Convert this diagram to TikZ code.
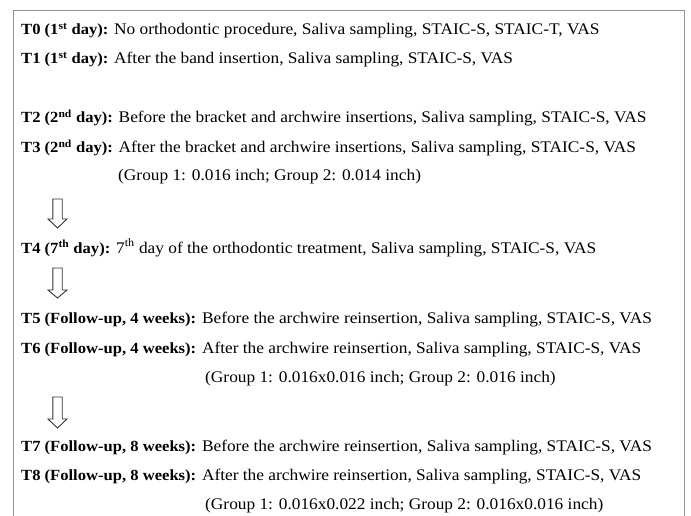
\documentclass[tikz,border=0pt]{standalone}
\usepackage{fontspec}
\setmainfont{Liberation Serif}
\newfontfamily\bodyfont[FakeStretch=1.07]{Liberation Serif}
\newcommand{\lab}[1]{{\fontsize{15.5}{18}\selectfont\bfseries #1}}
\begin{document}
\begin{tikzpicture}[x=1pt,y=-1pt,
  line/.style={anchor=base west, inner sep=0pt, font=\bodyfont\fontsize{16.2}{19}\selectfont},
  frame/.style={draw=black!42, line width=1.3pt},
  hollowarrow/.style={draw=black!80, line width=0.9pt, fill=white, line join=miter}]
\useasboundingbox (0,0) rectangle (691,516);
% open frame (bottom edge runs off the page)
\draw[frame] (13.5,516) -- (13.5,10.5) -- (684.5,10.5) -- (684.5,516);

% time points
\node[line] (t0) at (21,35) {\lab{T0 (1\textsuperscript{st} day):} No orthodontic procedure, Saliva sampling, STAIC-S, STAIC-T, VAS};
\node[line] (t1) at (21,64) {\lab{T1 (1\textsuperscript{st} day):} After the band insertion, Saliva sampling, STAIC-S, VAS};
\node[line] (t2) at (21,123) {\lab{T2 (2\textsuperscript{nd} day):} Before the bracket and archwire insertions, Saliva sampling, STAIC-S, VAS};
\node[line] (t3) at (21,153) {\lab{T3 (2\textsuperscript{nd} day):} After the bracket and archwire insertions, Saliva sampling, STAIC-S, VAS};
\node[line] (g3) at (118,181) {(Group 1: 0.016 inch; Group 2: 0.014 inch)};
\node[line] (t4) at (21,253) {\lab{T4 (7\textsuperscript{th} day):} 7\textsuperscript{th} day of the orthodontic treatment, Saliva sampling, STAIC-S, VAS};
\node[line] (t5) at (21,323) {\lab{T5 (Follow-up, 4 weeks):} Before the archwire reinsertion, Saliva sampling, STAIC-S, VAS};
\node[line] (t6) at (21,353) {\lab{T6 (Follow-up, 4 weeks):} After the archwire reinsertion, Saliva sampling, STAIC-S, VAS};
\node[line] (g6) at (205,382) {(Group 1: 0.016x0.016 inch; Group 2: 0.016 inch)};
\node[line] (t7) at (21,451) {\lab{T7 (Follow-up, 8 weeks):} Before the archwire reinsertion, Saliva sampling, STAIC-S, VAS};
\node[line] (t8) at (21,480) {\lab{T8 (Follow-up, 8 weeks):} After the archwire reinsertion, Saliva sampling, STAIC-S, VAS};
\node[line] (g8) at (205,509) {(Group 1: 0.016x0.022 inch; Group 2: 0.016x0.016 inch)};

% hollow down arrows between phases
\foreach \top/\base/\tip in {199/219/228, 268/290/298, 397/419/428}{
  \draw[hollowarrow] (52.8,\top) -- (62.2,\top) -- (62.2,\base) -- (67,\base)
    -- (57.5,\tip) -- (48,\base) -- (52.8,\base) -- cycle;
}
\end{tikzpicture}
\end{document}
